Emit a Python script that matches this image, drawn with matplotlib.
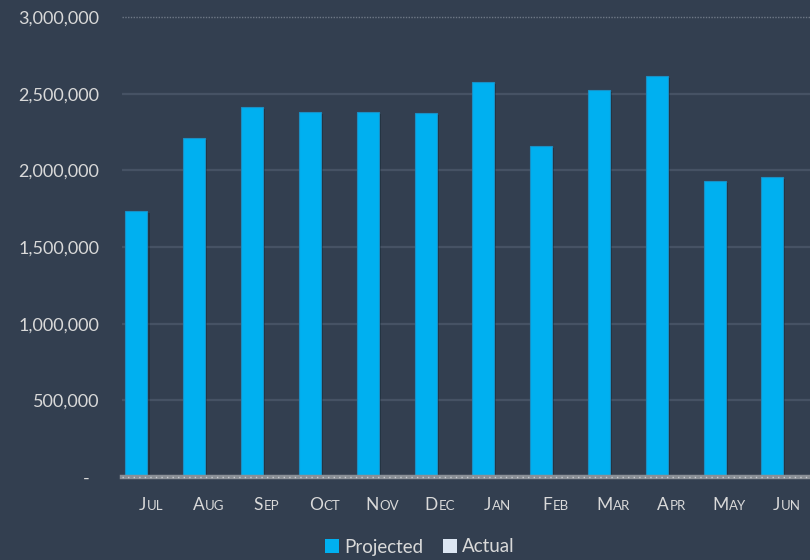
import matplotlib
matplotlib.use("Agg")
import matplotlib.pyplot as plt
import matplotlib.patheffects as pe
from matplotlib.offsetbox import TextArea, HPacker, AnnotationBbox
from matplotlib.patches import Patch
from matplotlib.ticker import FuncFormatter

# Data
months = ["Jul", "Aug", "Sep", "Oct", "Nov", "Dec",
          "Jan", "Feb", "Mar", "Apr", "May", "Jun"]
projected = [1735000, 2209000, 2411000, 2383000, 2383000, 2374000,
             2576000, 2157000, 2524000, 2613000, 1928000, 1957000]
actual = [0] * 12
y_ticks = [0, 500000, 1000000, 1500000, 2000000, 2500000, 3000000]

BG = "#333f50"
TXT = "#d9d9d9"
BLUE = "#00b0f0"
LIGHT = "#dce6f2"
FONT = "Lato"

plt.rcParams["font.family"] = [FONT, "DejaVu Sans"]

fig = plt.figure(figsize=(8.1, 5.6), dpi=100, facecolor=BG)
ax = fig.add_axes([122 / 810, 1 - 477 / 560, 1 - 122 / 810, (477 - 17) / 560])
ax.set_facecolor(BG)

x = list(range(len(months)))
w = 0.38
shadow = [pe.SimplePatchShadow(offset=(1.5, -1.5), alpha=0.25, shadow_rgbFace="black"), pe.Normal()]
bars = ax.bar([i - 0.25 for i in x], projected, width=w, color=BLUE,
              edgecolor="#1a8fc4", linewidth=0.8, zorder=3)
for b in bars:
    b.set_path_effects(shadow)
ax.bar([i + 0.13 for i in x], actual, width=w, color=LIGHT, zorder=3)

ax.set_xlim(-0.5, 11.4)
ax.set_ylim(0, 3000000)

# gridlines
for t in y_ticks[1:-1]:
    ax.axhline(t, color="#465264", linewidth=1.6, zorder=1)
ax.axhline(3000000, color="#6e7886", linewidth=1.0, linestyle=(0, (1, 1)), zorder=1, clip_on=False)
# baseline axis
ax.axhline(0, color="#8a8f96", linewidth=3.2, zorder=4, clip_on=False)
ax.axhline(0, color="#c8ccd2", linewidth=1.0, linestyle=(0, (1, 3)), zorder=5, clip_on=False)

for s in ax.spines.values():
    s.set_visible(False)

ax.set_yticks(y_ticks)
ax.yaxis.set_major_formatter(FuncFormatter(lambda v, p: "-  " if v == 0 else f"{int(v):,}"))
ax.tick_params(axis="y", length=0, pad=16.5, labelsize=13, labelcolor=TXT)
ax.set_xticks([])

# small-caps month labels
for i, m in enumerate(months):
    first = TextArea(m[0].upper(), textprops=dict(color=TXT, fontsize=12.5, family=FONT))
    rest = TextArea(m[1:].upper(), textprops=dict(color=TXT, fontsize=9.5, family=FONT))
    box = HPacker(children=[first, rest], align="baseline", pad=0, sep=0.5)
    ab = AnnotationBbox(box, (i, 0), xycoords=("data", "axes fraction"),
                        xybox=(0, -20), boxcoords="offset points",
                        box_alignment=(0.5, 0.5), frameon=False, annotation_clip=False)
    ax.add_artist(ab)

handles = [Patch(facecolor=BLUE, label="Projected"), Patch(facecolor=LIGHT, label="Actual")]
fig.legend(handles=handles, loc="center", bbox_to_anchor=(420 / 810, 1 - 547 / 560),
           ncol=2, frameon=False, fontsize=13.5, labelcolor=TXT,
           handlelength=0.75, handleheight=0.75, handletextpad=0.3, columnspacing=1.0)

fig.savefig("out.png", dpi=100, facecolor=BG)
